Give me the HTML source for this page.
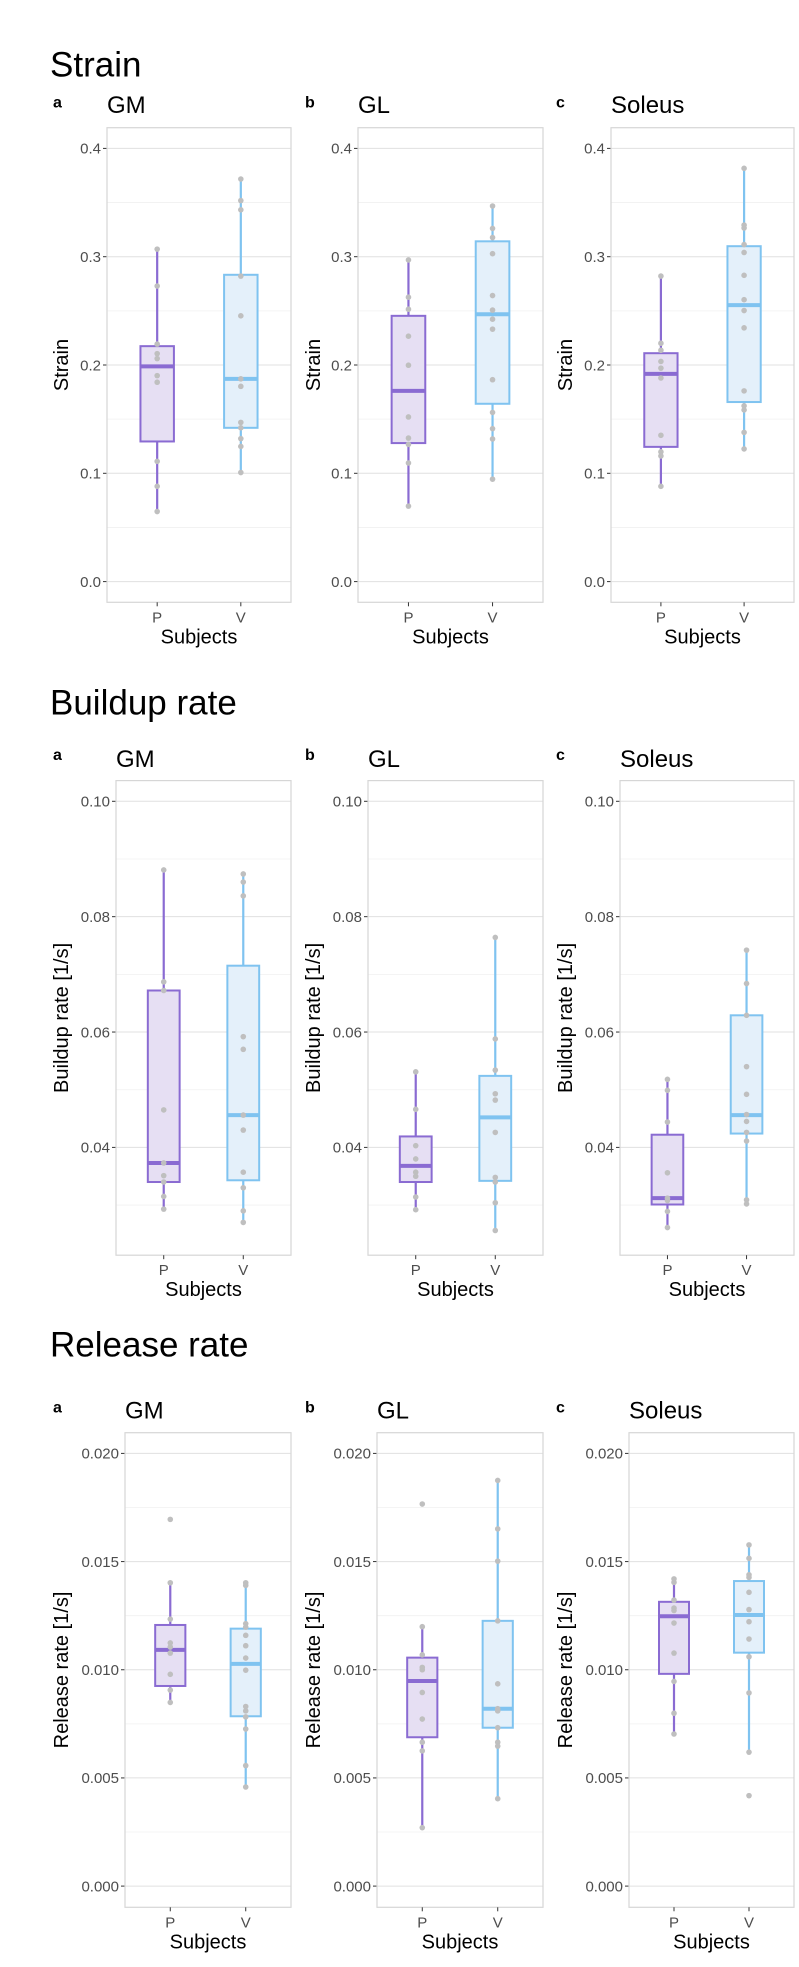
<!DOCTYPE html>
<html><head><meta charset="utf-8"><style>
html,body{margin:0;padding:0;background:#fff;}
svg{display:block;font-family:"Liberation Sans",Arial,sans-serif;}
</style></head><body>
<svg id="fig" width="799" height="1967" viewBox="0 0 799 1967" xmlns="http://www.w3.org/2000/svg"></svg>
<script>
// ---- data: [whiskerLow, Q1, median, Q3, whiskerHigh] and points ----
const groups = ["P","V"];
const strainTicks = ["0.0","0.1","0.2","0.3","0.4"];
const buildupTicks = ["0.04","0.06","0.08","0.10"];
const releaseTicks = ["0.000","0.005","0.010","0.015","0.020"];

const strainGM_P = [0.0647,0.1294,0.1987,0.2174,0.307];
const strainGM_Ppts = [0.307,0.2729,0.2193,0.2105,0.2059,0.1902,0.1841,0.111,0.088,0.0647];
const strainGM_V = [0.1007,0.142,0.1872,0.2833,0.3717];
const strainGM_Vpts = [0.3717,0.3518,0.3433,0.2821,0.2454,0.1872,0.1803,0.147,0.142,0.132,0.1248,0.1007];
const strainGL_P = [0.0697,0.1279,0.1761,0.2454,0.297];
const strainGL_Ppts = [0.297,0.2626,0.2515,0.2266,0.1998,0.152,0.1325,0.1267,0.1095,0.0697];
const strainGL_V = [0.0946,0.1642,0.2469,0.3142,0.3468];
const strainGL_Vpts = [0.3468,0.3261,0.3177,0.3028,0.2641,0.2507,0.2423,0.2331,0.1864,0.1562,0.1412,0.1317,0.0946];
const strainSO_P = [0.088,0.1244,0.1918,0.2109,0.2821];
const strainSO_Ppts = [0.2821,0.2201,0.2136,0.2033,0.1971,0.188,0.1351,0.1198,0.116,0.088];
const strainSO_V = [0.1225,0.1658,0.2553,0.3097,0.3816];
const strainSO_Vpts = [0.3816,0.3292,0.3265,0.3112,0.3039,0.2828,0.2603,0.2503,0.2343,0.1761,0.1623,0.1585,0.1378,0.1225];

const buildGM_P = [0.0293,0.034,0.0373,0.0672,0.0881];
const buildGM_Ppts = [0.0881,0.0687,0.0672,0.0465,0.0373,0.0351,0.034,0.0315,0.0293];
const buildGM_V = [0.027,0.0343,0.0456,0.0715,0.0874];
const buildGM_Vpts = [0.0874,0.086,0.0836,0.0592,0.057,0.0456,0.043,0.0357,0.033,0.029,0.027];
const buildGL_P = [0.0292,0.034,0.0368,0.0419,0.0531];
const buildGL_Ppts = [0.0531,0.0466,0.0403,0.038,0.0357,0.035,0.0314,0.0292];
const buildGL_V = [0.0256,0.0342,0.0452,0.0524,0.0764];
const buildGL_Vpts = [0.0764,0.0588,0.0534,0.0493,0.0482,0.0426,0.0348,0.034,0.0304,0.0256];
const buildSO_P = [0.0261,0.0301,0.0312,0.0422,0.0518];
const buildSO_Ppts = [0.0518,0.0499,0.0444,0.0356,0.0312,0.0308,0.0289,0.0261];
const buildSO_V = [0.0302,0.0424,0.0456,0.0629,0.0742];
const buildSO_Vpts = [0.0742,0.0684,0.0629,0.054,0.0492,0.0457,0.0445,0.0426,0.0411,0.0309,0.0302];

const relGM_P = [0.00849,0.00925,0.01092,0.01207,0.01402];
const relGM_Ppts = [0.01695,0.01402,0.01234,0.01124,0.01105,0.01077,0.00979,0.00906,0.00849];
const relGM_V = [0.00458,0.00785,0.01027,0.0119,0.01402];
const relGM_Vpts = [0.01402,0.0139,0.01213,0.01197,0.01159,0.01111,0.01054,0.00998,0.0083,0.0081,0.00782,0.00726,0.00557,0.00458];
const relGL_P = [0.0027,0.00688,0.00948,0.01056,0.01199];
const relGL_Ppts = [0.01766,0.01199,0.01069,0.01011,0.01,0.00895,0.00772,0.00665,0.00625,0.0027];
const relGL_V = [0.00404,0.00732,0.0082,0.01226,0.01875];
const relGL_Vpts = [0.01875,0.01651,0.01502,0.01226,0.00935,0.0082,0.0081,0.00732,0.00665,0.00647,0.00404];
const relSO_P = [0.00703,0.00981,0.01247,0.01314,0.0142];
const relSO_Ppts = [0.0142,0.01404,0.01322,0.01285,0.01274,0.01216,0.01077,0.00946,0.00799,0.00703];
const relSO_V = [0.00619,0.01079,0.01253,0.0141,0.01577];
const relSO_Vpts = [0.01577,0.01515,0.01439,0.01427,0.01358,0.01278,0.01222,0.01142,0.0106,0.00893,0.00619,0.00418];

const svg = document.getElementById('fig');
const NS = "http://www.w3.org/2000/svg";
function mk(tag, attrs, parent){const e=document.createElementNS(NS,tag);for(const k in attrs)e.setAttribute(k,attrs[k]);(parent||svg).appendChild(e);return e;}
function txt(s, attrs, parent){const e=mk('text',attrs,parent);e.textContent=s;return e;}

const COLORS = {P:{line:"#8a6bd2",fill:"#e6dff3"},V:{line:"#7fc3f0",fill:"#e4f0fa"}};

function panel(cfg){
  const g = mk('g',{});
  
  
  const L=cfg.L,R=cfg.R,T=cfg.T,B=cfg.B;
  const yScale = v => cfg.y0 + (v - cfg.v0)/(cfg.v1 - cfg.v0)*(cfg.y1 - cfg.y0);
  const xScale = i => L + (R-L)*(0.6 + i)/2.2;
  const bw = (R-L)*0.4/2.2;
  // minor grid
  cfg.minor.forEach(v=>{const y=yScale(v);if(y>T&&y<B){const l=mk('line',{x1:L,x2:R,y1:y,y2:y,stroke:"#f0f0f0","stroke-width":0.8},g);}});
  // major grid + ticks
  cfg.ticks.forEach(t=>{const v=parseFloat(t);const y=yScale(v);
    const l=mk('line',{x1:L,x2:R,y1:y,y2:y,stroke:"#e0e0e0","stroke-width":1},g);
    
    
    mk('line',{x1:L-4,x2:L,y1:y,y2:y,stroke:"#333","stroke-width":1},g);
    const tl=txt(t,{x:L-6,y:y+5.3,"text-anchor":"end","font-size":15,fill:"#4d4d4d"},g);
    
    
  });
  // frame
  const fr=mk('rect',{x:L,y:T,width:R-L,height:B-T,fill:"none",stroke:"#d6d6d6","stroke-width":1.2},g);
  
  
  // boxes
  cfg.series.forEach((s,i)=>{
    const cx=xScale(i), c=COLORS[groups[i]];
    const st=s.stats;
    const wl=mk('line',{x1:cx,x2:cx,y1:yScale(st[4]),y2:yScale(st[0]),stroke:c.line,"stroke-width":2.2},g);
    
    
    const bx=mk('rect',{x:cx-bw/2,y:yScale(st[3]),width:bw,height:yScale(st[1])-yScale(st[3]),fill:c.fill,stroke:c.line,"stroke-width":2},g);
    
    
    const md=mk('line',{x1:cx-bw/2,x2:cx+bw/2,y1:yScale(st[2]),y2:yScale(st[2]),stroke:c.line,"stroke-width":4},g);
    
    
    s.pts.forEach(v=>{
      const p=mk('circle',{cx:cx,cy:yScale(v),r:2.8,fill:"#bfbfbf"},g);
      
      
    });
    mk('line',{x1:cx,x2:cx,y1:B,y2:B+4,stroke:"#333","stroke-width":1},g);
    const xl=txt(groups[i],{x:cx,y:B+20,"text-anchor":"middle","font-size":15,fill:"#4d4d4d"},g);
    
    
  });
  const xt=txt("Subjects",{x:(L+R)/2,y:B+41,"text-anchor":"middle","font-size":20,fill:"#000"},g);
  
  
  const yc=(T+B)/2;
  const yt=txt(cfg.ytitle,{x:cfg.ytx,y:yc,"text-anchor":"middle","font-size":20,fill:"#000",transform:`rotate(-90 ${cfg.ytx} ${yc})`},g);
  
  
  const sub=txt(cfg.sub,{x:L,y:cfg.subY,"font-size":24,fill:"#000"},g);
  
  
  const lt=txt(cfg.letter,{x:cfg.letterX,y:cfg.letterY,"font-size":16,"font-weight":"bold",fill:"#000"},g);
  
  
}

const rows = [
  {title:"Strain",titleY:76.7,T:127.7,B:602.3,v0:0,v1:0.4,y0:581.6,y1:148.4,ticks:strainTicks,
   minor:[0.05,0.15,0.25,0.35],ytitle:"Strain",subY:113,letterY:107.7,lefts:[107,358,611],
   data:[[strainGM_P,strainGM_Ppts,strainGM_V,strainGM_Vpts],[strainGL_P,strainGL_Ppts,strainGL_V,strainGL_Vpts],[strainSO_P,strainSO_Ppts,strainSO_V,strainSO_Vpts]]},
  {title:"Buildup rate",titleY:714.3,T:780.6,B:1255.2,v0:0.04,v1:0.10,y0:1147.4,y1:801.3,ticks:buildupTicks,
   minor:[0.03,0.05,0.07,0.09],ytitle:"Buildup rate [1/s]",subY:766.9,letterY:759.8,lefts:[116,368,620],
   data:[[buildGM_P,buildGM_Ppts,buildGM_V,buildGM_Vpts],[buildGL_P,buildGL_Ppts,buildGL_V,buildGL_Vpts],[buildSO_P,buildSO_Ppts,buildSO_V,buildSO_Vpts]]},
  {title:"Release rate",titleY:1356.4,T:1432.7,B:1907.3,v0:0,v1:0.02,y0:1886.1,y1:1453.4,ticks:releaseTicks,
   minor:[0.0025,0.0075,0.0125,0.0175],ytitle:"Release rate [1/s]",subY:1418.6,letterY:1412.3,lefts:[125,377,629],
   data:[[relGM_P,relGM_Ppts,relGM_V,relGM_Vpts],[relGL_P,relGL_Ppts,relGL_V,relGL_Vpts],[relSO_P,relSO_Ppts,relSO_V,relSO_Vpts]]}
];
const rights=[291,543,794], subs=["GM","GL","Soleus"], letters=["a","b","c"], letterXs=[53,305,556], ytxs=[68,320,572];
rows.forEach((r,ri)=>{
  const t=txt(r.title,{x:50,y:r.titleY,"font-size":35,fill:"#000"});
  
  
  for(let k=0;k<3;k++){
    const d=r.data[k];
    panel({name:(r.title.toLowerCase().replace(' ','-'))+'-'+subs[k].toLowerCase()+'-panel',
      L:r.lefts[k],R:rights[k],T:r.T,B:r.B,v0:r.v0,v1:r.v1,y0:r.y0,y1:r.y1,ticks:r.ticks,minor:r.minor,
      ytitle:r.ytitle,ytx:ytxs[k],sub:subs[k],subY:r.subY,letter:letters[k],letterX:letterXs[k],letterY:r.letterY,
      series:[{stats:d[0],pts:d[1]},{stats:d[2],pts:d[3]}]});
  }
});
</script>
</body></html>
